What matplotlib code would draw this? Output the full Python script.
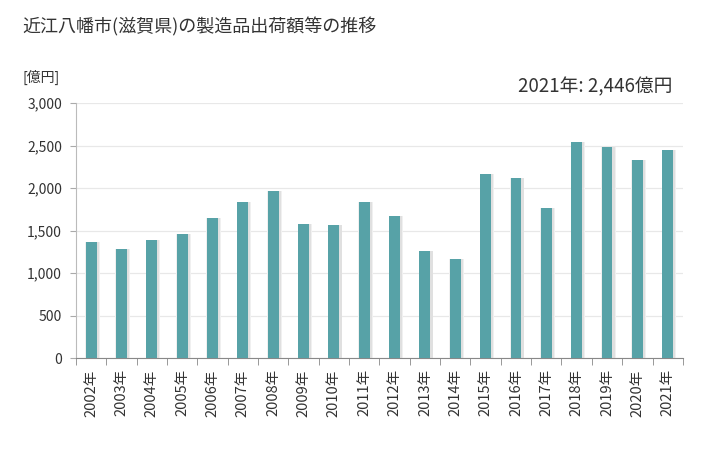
import matplotlib
matplotlib.use("Agg")
import matplotlib.pyplot as plt
import numpy as np

plt.rcParams['font.family'] = ['Noto Sans CJK JP', 'DejaVu Sans']

years = [str(y) for y in range(2002, 2022)]
year_labels = [y + "年" for y in years]
values = [1365, 1282, 1388, 1459, 1647, 1835, 1965, 1576, 1565, 1835,
          1671, 1259, 1165, 2165, 2118, 1765, 2541, 2482, 2329, 2446]
yticks = [0, 500, 1000, 1500, 2000, 2500, 3000]
ytick_labels = ["0", "500", "1,000", "1,500", "2,000", "2,500", "3,000"]

title = "近江八幡市(滋賀県)の製造品出荷額等の推移"
unit = "[億円]"
note = "2021年: 2,446億円"

fig = plt.figure(figsize=(7.28, 4.5), dpi=100)
ax = fig.add_axes([0.1044, 0.2044, 0.8336, 0.5666])

x = np.arange(len(values))
bw = 0.36
# soft shadow halo
ax.bar(x + 0.04, values, width=bw + 0.12, color="#f0f0f0", zorder=2)
ax.bar(x + 0.04, values, width=bw + 0.06, color="#e0e0e0", zorder=2)
ax.bar(x, values, width=bw, color="#57a2a7", zorder=3)

ax.set_xlim(-0.5, len(values) - 0.5)
ax.set_ylim(0, 3000)
ax.set_yticks(yticks)
ax.set_yticklabels(ytick_labels, fontsize=10, color="#333333")
ax.yaxis.grid(True, color="#e8e8e8", linewidth=0.9, zorder=0)
ax.set_axisbelow(True)

ax.set_xticks(x)
ax.set_xticklabels(year_labels, rotation=90, fontsize=10.5, color="#333333")
ax.tick_params(axis='x', which='major', length=0, pad=8)
ax.set_xticks(np.arange(-0.5, len(values), 1), minor=True)
ax.tick_params(axis='x', which='minor', length=5, color="#888888")
ax.tick_params(axis='y', length=4, color="#aaaaaa", pad=6)

for s in ["top", "right"]:
    ax.spines[s].set_visible(False)
ax.spines["left"].set_color("#bbbbbb")
ax.spines["left"].set_linestyle((0, (2, 1)))
ax.spines["bottom"].set_color("#888888")

fig.text(22 / 728, 1 - 27 / 450, title, fontsize=13, va="center", ha="left", color="#333333")
fig.text(22 / 728, 1 - 77 / 450, unit, fontsize=10, va="center", ha="left", color="#333333")
fig.text(672 / 728, 1 - 87 / 450, note, fontsize=13.5, va="center", ha="right", color="#333333")

fig.savefig("out.png", dpi=100)
